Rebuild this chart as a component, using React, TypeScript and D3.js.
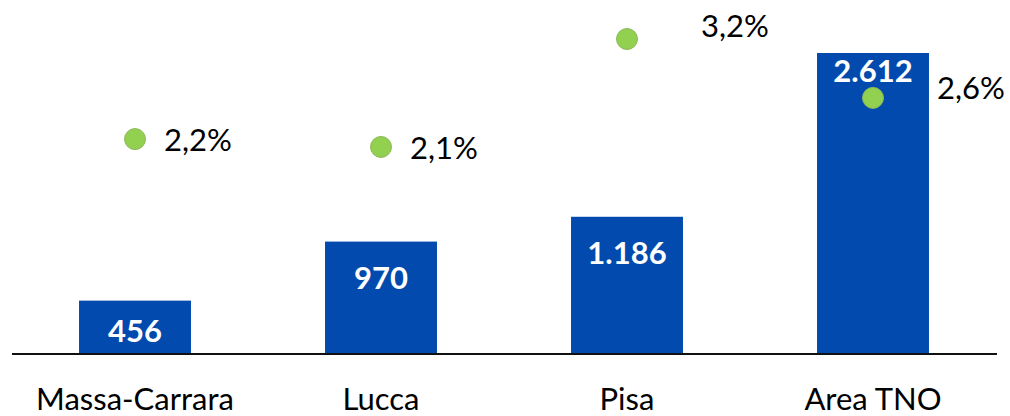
import React from "react";
import * as d3 from "d3";

// ---- data ----
const categories: string[] = ["Massa-Carrara", "Lucca", "Pisa", "Area TNO"];
const barValues: number[] = [456, 970, 1186, 2612];
const pctValues: number[] = [2.18, 2.1, 3.2, 2.6];

// ---- layout (label nudges, px) ----
const pctLabelNudgeX: number[] = [0, 0, 45, 35];
const pctLabelNudgeY: number[] = [0, 0, -14, -11];

const W = 1010;
const H = 416;
const baseY = 353;
const FONT = "Lato, 'Open Sans', sans-serif";
const FS = 31;

export default function App() {
  const x = d3
    .scaleBand<string>()
    .domain(categories)
    .range([12, 996])
    .paddingInner(0.545)
    .paddingOuter(0.2725);
  const y = d3.scaleLinear().domain([0, 2612]).range([baseY, 53]);
  const y2 = d3.scaleLinear().domain([0, 3.2]).range([baseY, 39]);
  const fmtInt = (v: number) => d3.format(",")(v).replace(/,/g, ".");
  const fmtPct = (v: number) => v.toFixed(1).replace(".", ",") + "%";

  return (
    <svg
      width={W}
      height={H}
      style={{ position: "absolute", left: 0, top: 0, background: "#fff" }}
    >
      {categories.map((c, i) => {
        const x0 = x(c)!;
        const bw = x.bandwidth();
        const top = y(barValues[i]);
        const cx = x0 + bw / 2;
        const dotY = y2(pctValues[i]);
        let lblY = Math.min(top + 47, baseY - 11);
        if (dotY > top && dotY < lblY + 12) lblY = dotY - 16;
        return (
          <g key={c}>
            <rect x={x0} y={top} width={bw} height={baseY - top} fill="#024AAD" />
            <text
              x={cx}
              y={lblY}
              textAnchor="middle"
              fill="#fff"
              fontWeight="bold"
              fontSize={FS}
              fontFamily={FONT}
            >
              {fmtInt(barValues[i])}
            </text>
          </g>
        );
      })}
      <line x1={12} x2={997} y1={354} y2={354} stroke="#111" strokeWidth={2} />
      {categories.map((c) => {
        const cx = x(c)! + x.bandwidth() / 2;
        return (
          <text
            key={"cat" + c}
            x={cx}
            y={410}
            textAnchor="middle"
            fill="#000"
            fontSize={FS}
            fontFamily={FONT}
          >
            {c}
          </text>
        );
      })}
      {categories.map((c, i) => {
        const cx = x(c)! + x.bandwidth() / 2;
        const cy = y2(pctValues[i]);
        return (
          <g key={"dot" + c}>
            <circle cx={cx} cy={cy} r={10.5} fill="#92D050" stroke="#8DB85A" strokeWidth={1} />
            <text
              x={cx + 29 + pctLabelNudgeX[i]}
              y={cy + 12 + pctLabelNudgeY[i]}
              fill="#000"
              fontSize={FS}
              fontFamily={FONT}
            >
              {fmtPct(pctValues[i])}
            </text>
          </g>
        );
      })}
    </svg>
  );
}
